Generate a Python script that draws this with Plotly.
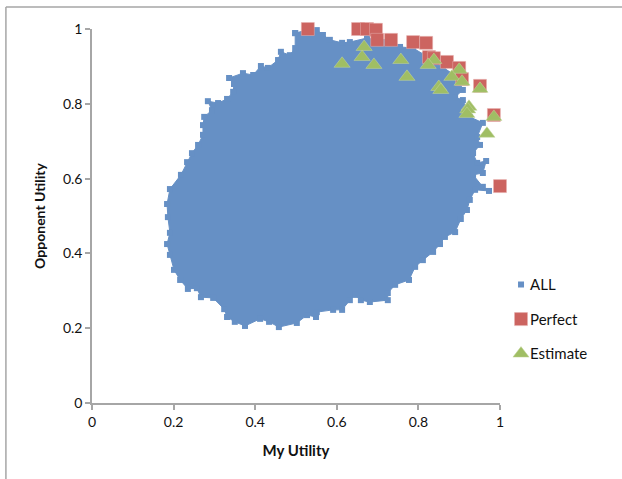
import plotly.graph_objects as go

all_x = [.498,.527,.551,.566,.583,.613,.632,.674,.718,.755,.787,.816,.860,.895,.909,.890,.909,.926,.958,.944,.951,.934,.944,.966,.958,.934,.958,.973,.939,.926,.919,.904,.890,.865,.853,.836,.811,.792,.777,.743,.725,.725,.681,.659,.645,.632,.613,.591,.551,.549,.527,.502,.458,.434,.412,.375,.350,.331,.324,.297,.267,.257,.235,.216,.201,.191,.184,.191,.186,.184,.191,.218,.233,.245,.260,.272,.272,.275,.294,.284,.309,.331,.346,.348,.336,.370,.395,.414,.431,.456,.463,.485,.498,.498]
all_y = [.989,.997,.997,.984,.971,.963,.965,.976,.965,.952,.949,.930,.898,.872,.837,.818,.810,.765,.749,.711,.690,.668,.642,.647,.615,.610,.578,.567,.570,.543,.516,.492,.457,.444,.425,.404,.382,.364,.329,.316,.294,.275,.270,.275,.289,.275,.249,.249,.243,.230,.235,.214,.203,.217,.225,.206,.217,.230,.251,.281,.283,.307,.305,.329,.356,.396,.425,.455,.497,.532,.572,.610,.644,.668,.690,.717,.743,.765,.783,.807,.802,.813,.832,.853,.869,.882,.877,.901,.896,.917,.939,.930,.949,.989]

perfect_x = [.529,.652,.674,.696,.699,.733,.787,.819,.826,.838,.870,.900,.907,.951,.985,1.0]
perfect_y = [1.0,1.0,1.0,.998,.971,.971,.965,.963,.925,.922,.912,.896,.866,.848,.770,.580]

estimate_x = [.613,.667,.662,.691,.757,.772,.838,.824,.900,.882,.907,.951,.850,.855,.924,.921,.919,.985,.968]
estimate_y = [.907,.952,.925,.904,.917,.872,.917,.904,.891,.872,.859,.840,.845,.837,.792,.785,.773,.765,.720]

x_ticks = [0, 0.2, 0.4, 0.6, 0.8, 1]
y_ticks = [0, 0.2, 0.4, 0.6, 0.8, 1]
x_title = "My Utility"
y_title = "Opponent Utility"

BLUE = "#6690C5"
RED = "#CC6460"
GREEN = "#A0BE64"
AXIS = "#A6A6A6"
INK = "#111111"
FONT = "Lato"

fig = go.Figure()
fig.add_trace(go.Scatter(x=all_x, y=all_y, mode="lines", fill="toself", fillcolor=BLUE,
                         line=dict(color=BLUE, width=1), showlegend=False, hoverinfo="skip"))
fig.add_trace(go.Scatter(x=all_x, y=all_y, mode="markers", name="ALL", legendgroup="a",
                         marker=dict(symbol="square", size=6, color=BLUE)))
fig.add_trace(go.Scatter(x=perfect_x, y=perfect_y, mode="markers", name="Perfect", legendgroup="p",
                         marker=dict(symbol="square", size=13, color=RED,
                                     line=dict(color="#E6B0AE", width=0.5))))
fig.add_trace(go.Scatter(x=estimate_x, y=estimate_y, mode="markers", name="Estimate", legendgroup="e",
                         marker=dict(symbol="triangle-up", size=14, color=GREEN,
                                     line=dict(color="#C4D79F", width=0.5))))

axis_common = dict(range=[0, 1], showgrid=False, zeroline=False, showline=True,
                   linecolor=AXIS, linewidth=1.5, ticks="outside", ticklen=5,
                   tickcolor=AXIS, tickwidth=1.5, tickfont=dict(family=FONT, size=14, color=INK))

fig.update_xaxes(tickvals=x_ticks, ticktext=[str(v) for v in x_ticks],
                 title=dict(text="<b>" + x_title + "</b>", font=dict(family=FONT, size=15, color=INK), standoff=17),
                 **axis_common)
fig.update_yaxes(tickvals=y_ticks, ticktext=[str(v) for v in y_ticks],
                 title=dict(text="<b>" + y_title + "</b>", font=dict(family=FONT, size=14, color=INK), standoff=14),
                 **axis_common)

fig.update_traces(cliponaxis=False)
fig.update_layout(
    width=622, height=479, autosize=False,
    margin=dict(l=92, r=122, t=29, b=76, pad=0),
    paper_bgcolor="white", plot_bgcolor="white",
    legend=dict(x=1.0025, y=0.36, xanchor="left", yanchor="top", tracegroupgap=12,
                font=dict(family=FONT, size=15, color=INK), itemsizing="trace",
                borderwidth=0, bgcolor="rgba(0,0,0,0)"),
    shapes=[
        dict(type="line", xref="paper", yref="paper", x0=-0.211, x1=-0.211, y0=-0.203, y1=1.059,
             line=dict(color=AXIS, width=1.5)),
        dict(type="line", xref="paper", yref="paper", x0=-0.211, x1=1.3, y0=1.059, y1=1.059,
             line=dict(color=AXIS, width=1.5)),
    ],
)

post = """
document.body.style.margin = '0';
document.querySelectorAll('.legendtext').forEach(function (t) { t.setAttribute('x', '29'); });
"""
fig.write_html("out.html", post_script=post, config=dict(displayModeBar=False))
